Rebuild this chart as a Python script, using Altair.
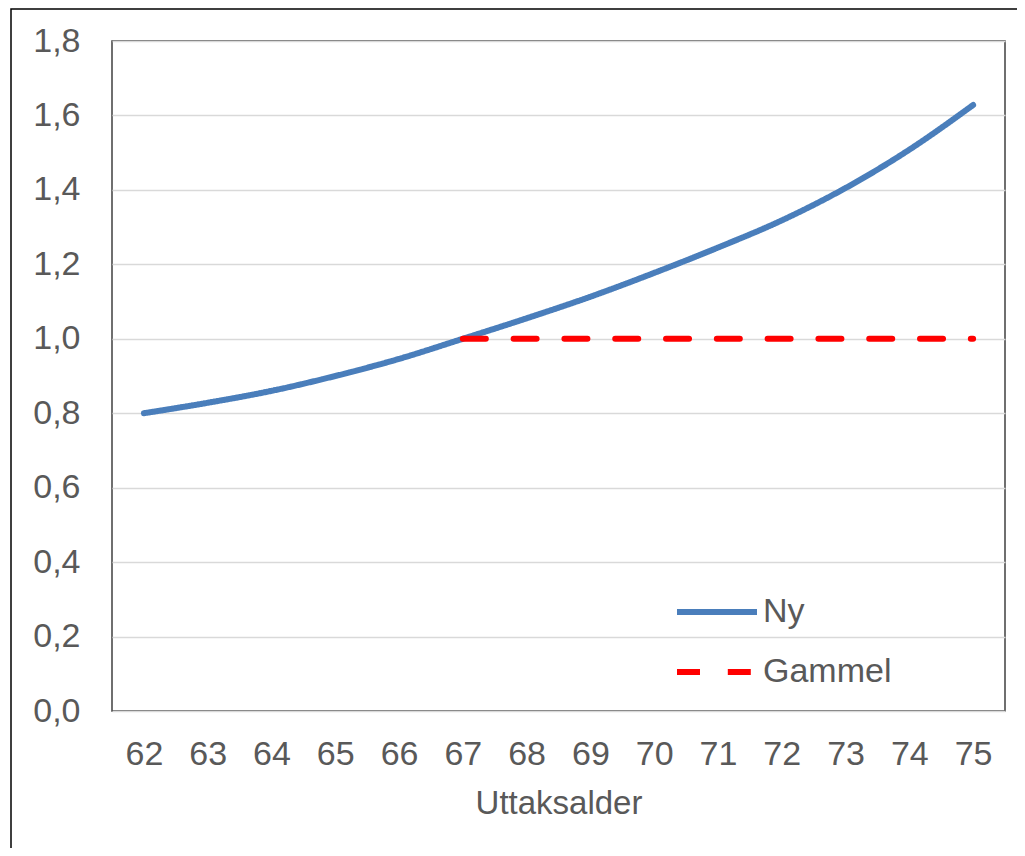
import altair as alt
import pandas as pd

ages = list(range(62, 76))
ny_values = [0.80, 0.828, 0.86, 0.90, 0.946, 1.0, 1.055, 1.113, 1.177, 1.245, 1.318, 1.405, 1.508, 1.628]
gammel_ages = list(range(67, 76))
gammel_values = [1.0] * len(gammel_ages)
series_names = ["Ny", "Gammel"]
series_colors = ["#4A7EBB", "#FF0000"]
y_ticks = [0, 0.2, 0.4, 0.6, 0.8, 1.0, 1.2, 1.4, 1.6, 1.8]

rows = [{"Serie": "Ny", "Alder": a, "Verdi": v} for a, v in zip(ages, ny_values)]
rows += [{"Serie": "Gammel", "Alder": a, "Verdi": v} for a, v in zip(gammel_ages, gammel_values)]
df = pd.DataFrame(rows)

FONT = "Liberation Sans"
TXT = "#595959"

x_enc = alt.X(
    "Alder:Q",
    scale=alt.Scale(domain=[61.5, 75.5], nice=False, zero=False),
    axis=alt.Axis(
        values=ages, title="Uttaksalder", grid=False, ticks=False, domain=False,
        labelFontSize=34, labelColor=TXT, labelFont=FONT, labelPadding=26,
        titleFontSize=33, titleColor=TXT, titleFont=FONT, titleFontWeight="normal",
        titlePadding=16, format="d",
    ),
)
y_enc = alt.Y(
    "Verdi:Q",
    scale=alt.Scale(domain=[0, 1.8], nice=False),
    axis=alt.Axis(
        values=y_ticks, title=None, ticks=False, domain=False,
        grid=True, gridColor="#D9D9D9", gridWidth=1.5,
        labelFontSize=34, labelColor=TXT, labelFont=FONT, labelPadding=32,
        labelExpr="replace(format(datum.value, '.1f'), '.', ',')",
    ),
)

legend = alt.Legend(
    title=None, orient="none", legendX=562, legendY=528,
    symbolType="stroke", symbolSize=6400, symbolStrokeWidth=6,
    labelFontSize=34, labelColor=TXT, labelFont=FONT, labelOffset=3,
    rowPadding=0,
)

lines = alt.Chart(df).mark_line(strokeWidth=6, strokeCap="round", interpolate="monotone").encode(
    x=x_enc,
    y=y_enc,
    color=alt.Color(
        "Serie:N",
        scale=alt.Scale(domain=series_names, range=series_colors),
        legend=legend,
    ),
    strokeDash=alt.StrokeDash(
        "Serie:N",
        scale=alt.Scale(domain=series_names, range=[[1, 0], [23, 27.8]]),
        legend=legend,
    ),
)

frame = alt.Chart(pd.DataFrame({"f": [0]})).mark_rect(fill=None, stroke="#000000", strokeWidth=1.5).encode(
    x=alt.value(-101), x2=alt.value(1200), y=alt.value(-32), y2=alt.value(1000)
)

chart = alt.layer(frame, lines).properties(
    width=893, height=670,
    background="white",
    autosize=alt.AutoSizeParams(type="none"),
    padding={"left": 104, "top": 33, "right": 12, "bottom": 137},
).configure_view(stroke="#404040", strokeWidth=1.5)

chart.save("out.html", embed_options={"renderer": "svg", "actions": False})
